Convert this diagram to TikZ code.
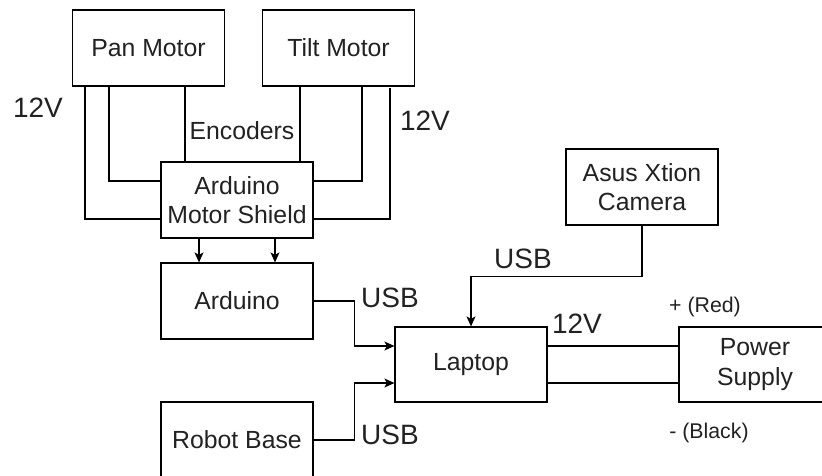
\documentclass[tikz,border=0pt]{standalone}
\usepackage{fontspec}
\setmainfont{Liberation Sans}
\usetikzlibrary{calc,arrows.meta}
\definecolor{txt}{HTML}{222222}
\tikzset{
  blk/.style={draw=black, line width=1.2pt, minimum width=152pt, minimum height=76pt, inner sep=0pt,
    align=center, text=txt, font=\fontsize{24.8}{29.5}\selectfont},
  wire/.style={draw=black, line width=1.2pt},
  arr/.style={wire, -{Stealth[length=10pt,width=9pt,inset=2.5pt]}},
  biglbl/.style={anchor=base, inner sep=0pt, text=txt, font=\fontsize{28}{30}\selectfont},
  midlbl/.style={anchor=base, inner sep=0pt, text=txt, font=\fontsize{24.8}{29}\selectfont},
  smalllbl/.style={anchor=base, inner sep=0pt, text=txt, font=\fontsize{21.3}{24}\selectfont}
}
\begin{document}
\begin{tikzpicture}[x=1pt,y=-1pt]
\useasboundingbox (0,0) rectangle (822,475);
\fill[white] (0,0) rectangle (822,475);
% boxes
\node[blk] (pan) at (148.5,48) {Pan Motor};
\node[blk] (tilt) at (338.5,48) {Tilt Motor};
\node[blk] (shield) at (237,200) {Arduino\\Motor Shield};
\node[blk] (arduino) at (237,301) {Arduino};
\node[blk] (robot) at (237,440) {Robot Base};
\node[blk, minimum height=75pt] (laptop) at (471,364.5) {Laptop};
\node[blk] (camera) at (642,187) {Asus Xtion\\Camera};
\node[blk, minimum height=75pt] (power) at (755,364.5) {Power\\Supply};
% motor wires
\draw[wire] ([xshift=13pt]pan.south west) |- ([yshift=-19pt]shield.west);
\draw[wire] ([xshift=37pt]pan.south west) |- ([yshift=19pt]shield.west);
\draw[wire] ([xshift=113pt]pan.south west) -- ([xshift=113pt]pan.south west |- shield.north);
\draw[wire] ([xshift=38pt]tilt.south west) -- ([xshift=38pt]tilt.south west |- shield.north);
\draw[wire] ([xshift=100pt]tilt.south west) |- ([yshift=19pt]shield.east);
\draw[wire] ([xshift=128pt,yshift=-1pt]tilt.south west) |- ([yshift=-19pt]shield.east);
% shield to arduino
\draw[arr] ([xshift=-38pt]shield.south) -- ([xshift=-38pt]arduino.north);
\draw[arr] ([xshift=38pt]shield.south) -- ([xshift=38pt]arduino.north);
% usb connections
\draw[arr] (arduino.east) -- ++(41,0) |- ([yshift=18.5pt]laptop.west);
\draw[arr] (robot.east) -- ++(41,0) |- ([yshift=-18.5pt]laptop.west);
\draw[arr] (camera.south) -- ++(0,51) -| (laptop.north);
% power wires
\draw[wire] ([yshift=18.5pt]laptop.east) -- ([yshift=18.5pt]laptop.east -| power.west);
\draw[wire] ([yshift=-18.5pt]laptop.east) -- ([yshift=-18.5pt]laptop.east -| power.west);
% labels
\node[biglbl] (v12a) at (38,117) {12V};
\node[midlbl] (enc) at (242,139) {Encoders};
\node[biglbl] (v12b) at (425,130) {12V};
\node[biglbl] (usb1) at (390,307) {USB};
\node[biglbl] (usb2) at (390,444) {USB};
\node[biglbl] (usb3) at (523,268) {USB};
\node[biglbl] (v12c) at (577,333) {12V};
\node[smalllbl] (red) at (705,312) {+ (Red)};
\node[smalllbl] (black) at (709,438) {- (Black)};
\end{tikzpicture}
\end{document}
